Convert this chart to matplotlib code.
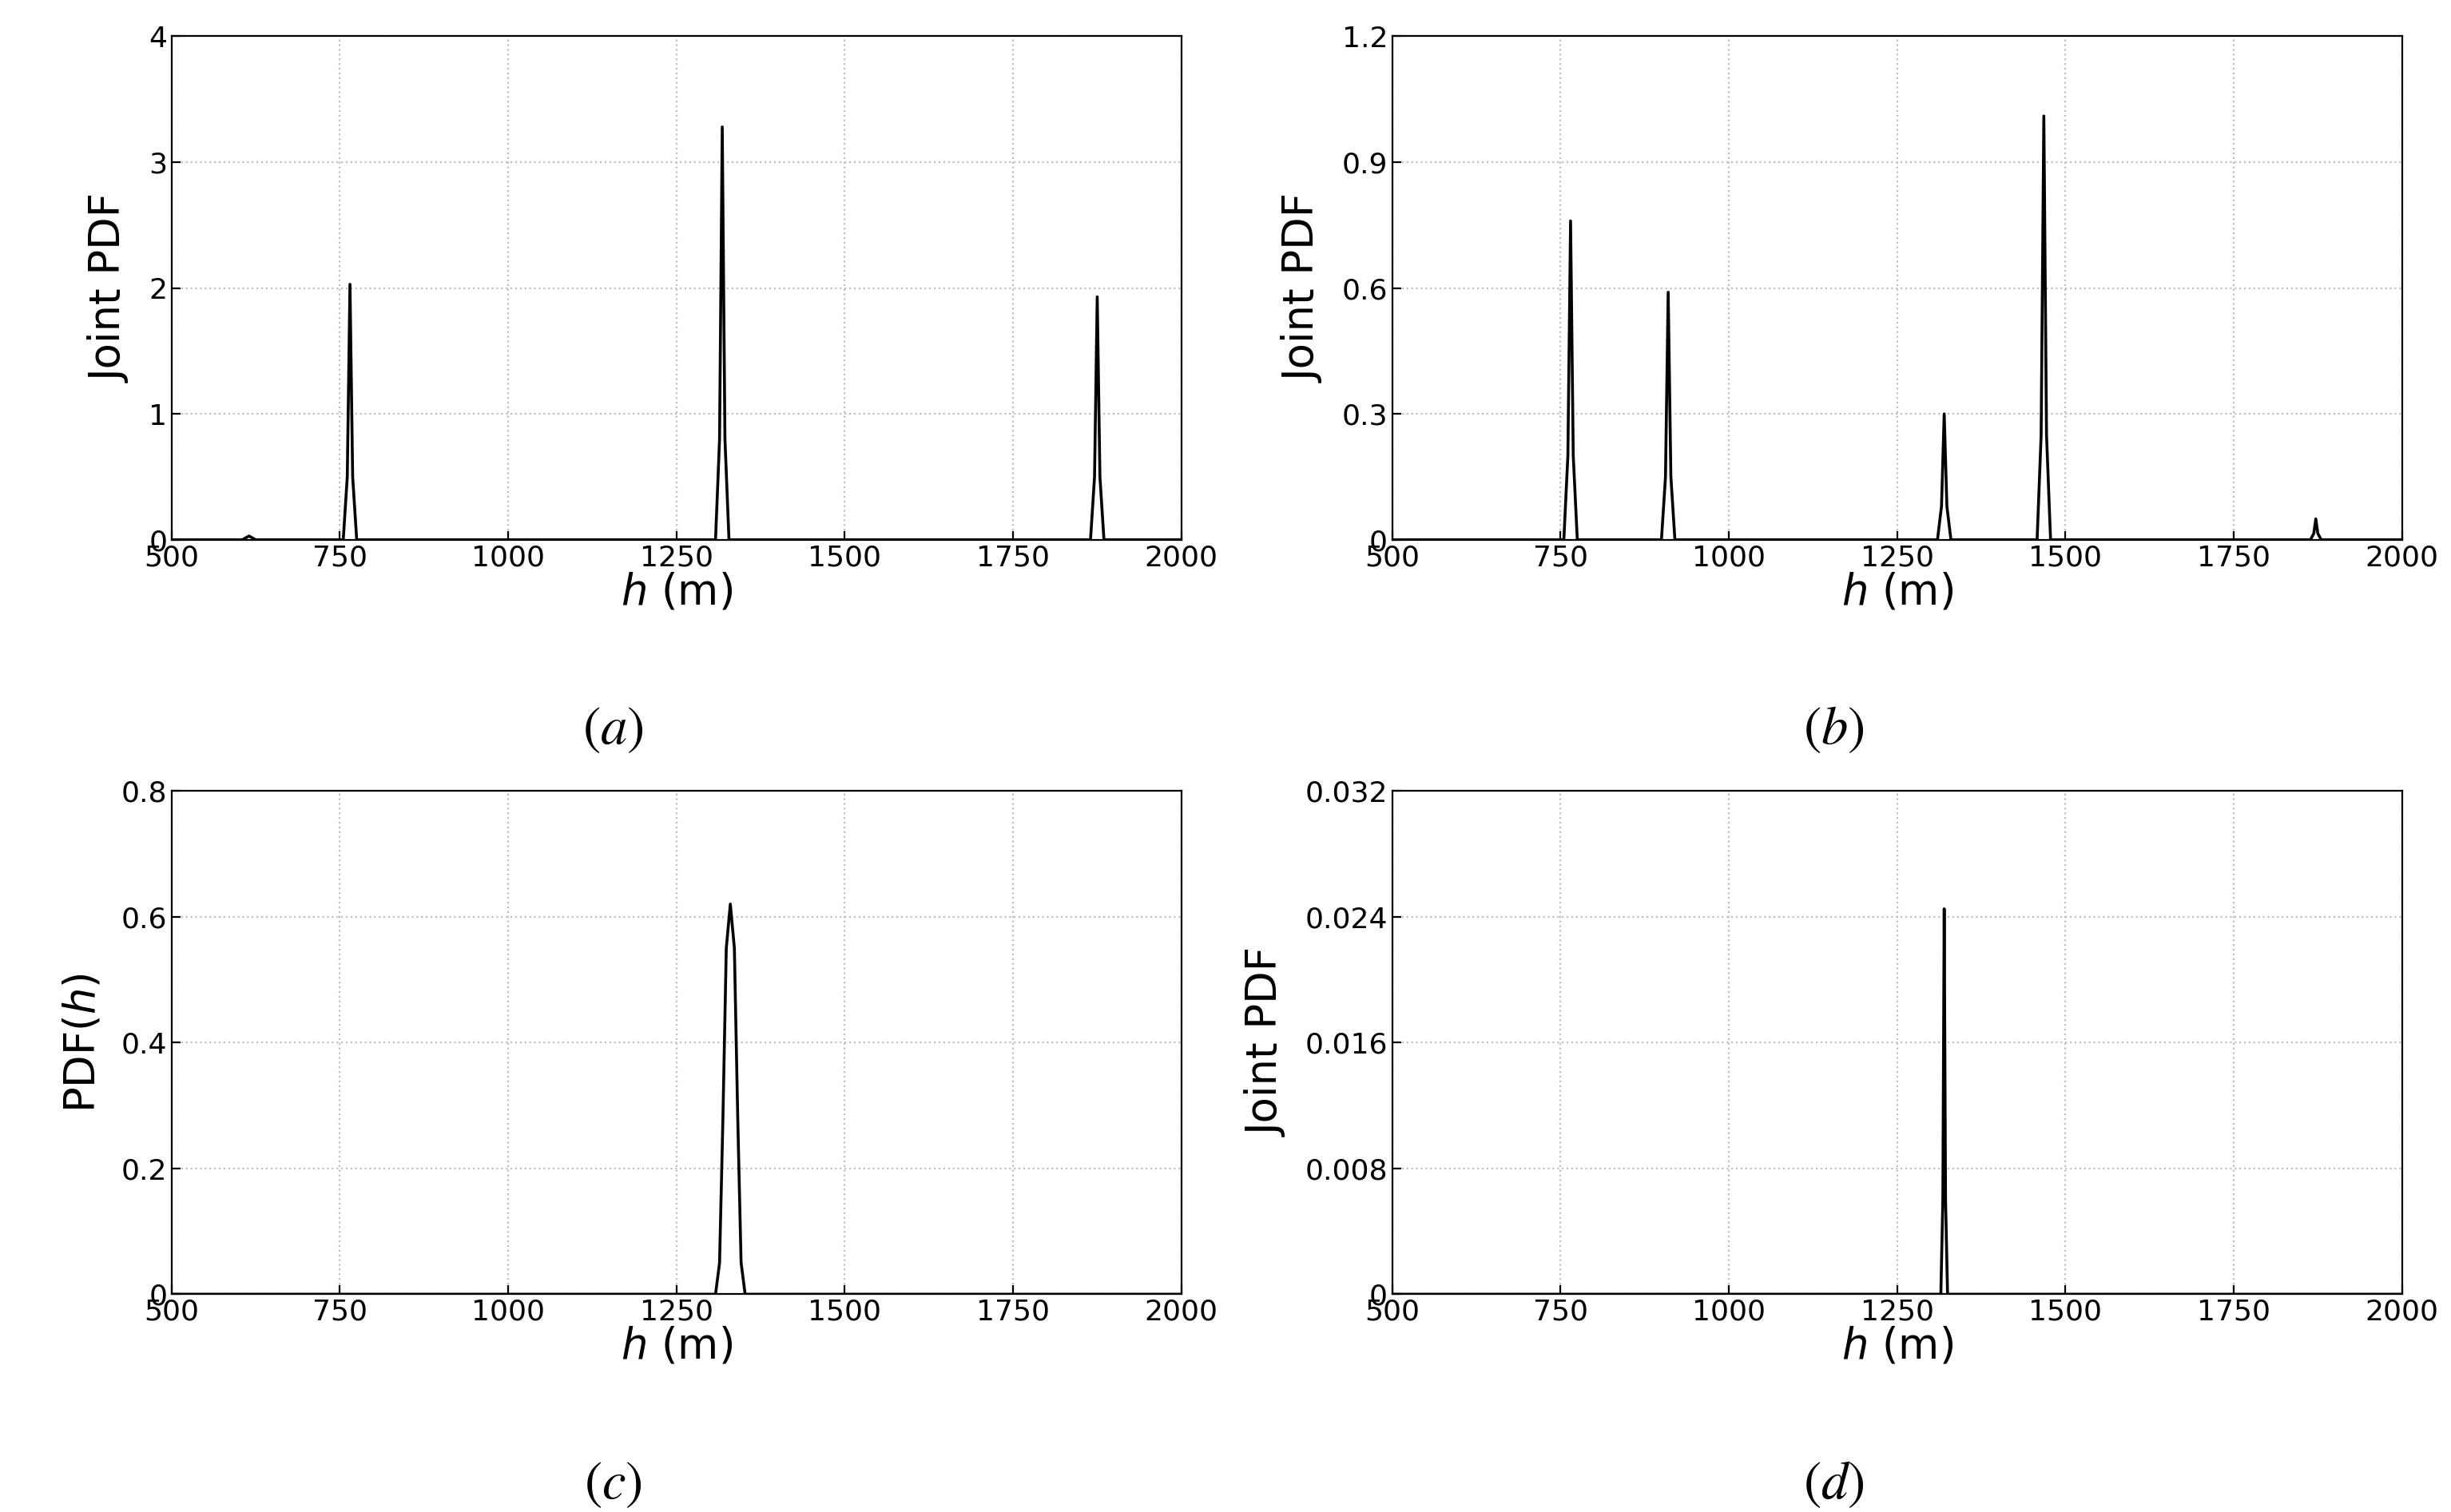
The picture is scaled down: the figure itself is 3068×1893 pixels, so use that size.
import matplotlib; matplotlib.use("Agg")
import matplotlib.pyplot as plt

# (a) joint PDF: spike points
h_a = [500, 605, 615, 625, 755, 761, 765, 769, 775, 1308, 1314, 1318, 1322, 1328, 1865, 1871, 1875, 1879, 1885, 2000]
p_a = [0, 0, 0.03, 0, 0, 0.5, 2.03, 0.5, 0, 0, 0.8, 3.28, 0.8, 0, 0, 0.5, 1.93, 0.5, 0, 0]
# (b)
h_b = [500, 755, 761, 765, 769, 775, 900, 906, 910, 914, 920, 1310, 1316, 1320, 1324, 1330,
       1458, 1464, 1468, 1472, 1478, 1864, 1869, 1872, 1875, 1880, 2000]
p_b = [0, 0, 0.2, 0.76, 0.2, 0, 0, 0.15, 0.59, 0.15, 0, 0, 0.08, 0.30, 0.08, 0,
       0, 0.25, 1.01, 0.25, 0, 0, 0.015, 0.05, 0.015, 0, 0]
# (c) PDF(h)
h_c = [500, 1308, 1314, 1319, 1324, 1330, 1336, 1341, 1346, 1352, 2000]
p_c = [0, 0, 0.05, 0.28, 0.55, 0.62, 0.55, 0.28, 0.05, 0, 0]
# (d)
h_d = [500, 1315, 1318, 1320, 1322, 1325, 2000]
p_d = [0, 0, 0.006, 0.0245, 0.006, 0, 0]

panels = [
    (h_a, p_a, "Joint PDF", [0, 1, 2, 3, 4], ["0", "1", "2", "3", "4"], "(a)"),
    (h_b, p_b, "Joint PDF", [0, 0.3, 0.6, 0.9, 1.2], ["0", "0.3", "0.6", "0.9", "1.2"], "(b)"),
    (h_c, p_c, "PDF($h$)", [0, 0.2, 0.4, 0.6, 0.8], ["0", "0.2", "0.4", "0.6", "0.8"], "(c)"),
    (h_d, p_d, "Joint PDF", [0, 0.008, 0.016, 0.024, 0.032], ["0", "0.008", "0.016", "0.024", "0.032"], "(d)"),
]
xt = [500, 750, 1000, 1250, 1500, 1750, 2000]

fig = plt.figure(figsize=(15.34, 9.465), dpi=200)
boxes = [(0.070, 0.643), (0.568, 0.643), (0.070, 0.144), (0.568, 0.144)]
for (l, b), (h, p, yl, yt, ytl, cap) in zip(boxes, panels):
    ax = fig.add_axes([l, b, 0.412, 0.333])
    ax.plot(h, p, color="black", lw=1.3)
    ax.set_xlim(500, 2000); ax.set_ylim(yt[0], yt[-1])
    ax.set_xticks(xt); ax.set_xticklabels([str(v) for v in xt], fontsize=13)
    ax.set_yticks(yt); ax.set_yticklabels(ytl, fontsize=13)
    ax.tick_params(direction="in", length=4, pad=2)
    ax.grid(True, ls=":", color="0.75", lw=0.8)
    ax.set_xlabel("$h$ (m)", fontsize=19, labelpad=0)
    ax.set_ylabel(yl, fontsize=19, labelpad=8)
    fig.text(l + 0.18, b - 0.135, "$(" + cap[1] + ")$", fontsize=24, ha="center",
             family="serif", math_fontfamily="stix")

fig.savefig("out.png", dpi=200)
